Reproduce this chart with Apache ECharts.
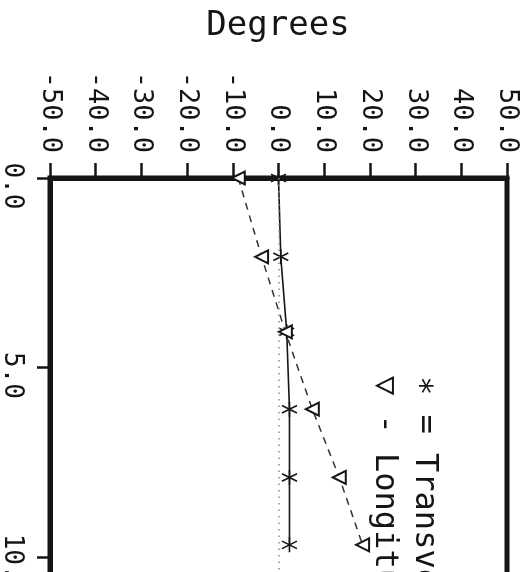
<!DOCTYPE html>
<html>
<head>
<meta charset="utf-8">
<script src="https://cdn.jsdelivr.net/npm/echarts@6/dist/echarts.min.js"></script>
<style>
  html, body { margin: 0; padding: 0; background: #fff; }
  #chart { width: 527px; height: 572px; }
</style>
</head>
<body>
<div id="chart"></div>
<script>
// depth (vertical axis) and angles in degrees (horizontal axis)
const depth = [0, 2.08, 4.06, 6.1, 7.9, 9.68];
const transverse = [0, 0.5, 1.8, 2.4, 2.4, 2.4];
const longitudinal = [-8.8, -3.7, 1.5, 7.4, 13.3, 18.4];
const degreeTicks = [-50, 50, 10]; // min, max, interval

const font = 'DejaVu Sans Mono';
const ink = '#151515';

let chart = echarts.init(document.getElementById('chart'));

// asterisk marker: vertical bar + X
const starPath = 'path://M0,-10L0,10M-8.7,-5L8.7,5M-8.7,5L8.7,-5';

let option = {
  animation: false,
  backgroundColor: '#fff',
  grid: {
    left: 50,
    right: 20,
    top: 178,
    height: 758,
    outerBoundsMode: 'none',
    containLabel: false,
    show: true,
    borderColor: ink,
    borderWidth: 5
  },
  xAxis: {
    type: 'value',
    position: 'top',
    min: degreeTicks[0],
    max: degreeTicks[1],
    interval: degreeTicks[2],
    axisLine: { show: true, onZero: false, lineStyle: { color: ink, width: 5 } },
    axisTick: { show: true, inside: false, length: 15, lineStyle: { color: ink, width: 2.5 } },
    splitLine: { show: false },
    axisLabel: {
      rotate: 90,
      margin: 25,
      align: 'right',
      verticalAlign: 'middle',
      color: ink,
      fontFamily: font,
      fontSize: 27,
      formatter: (v) => v.toFixed(1)
    }
  },
  yAxis: {
    type: 'value',
    inverse: true,
    min: 0,
    max: 20,
    interval: 5,
    axisLine: { show: true, onZero: false, lineStyle: { color: ink, width: 5 } },
    axisTick: { show: true, inside: false, length: 13, lineStyle: { color: ink, width: 2.5 } },
    splitLine: { show: false },
    axisLabel: {
      rotate: -90,
      margin: 25,
      align: 'center',
      verticalAlign: 'top',
      padding: [0, 0, 0, 16],
      color: ink,
      fontFamily: font,
      fontSize: 26,
      formatter: (v) => v.toFixed(1)
    }
  },
  graphic: [
    {
      type: 'text', x: 278, y: 26,
      style: { text: 'Degrees', align: 'center', verticalAlign: 'middle', font: '34px "DejaVu Sans Mono"', fill: ink }
    },
    {
      type: 'text', x: 424, y: 376, rotation: -Math.PI / 2,
      style: { text: '∗ = Transverse', align: 'left', verticalAlign: 'middle', font: '32px "DejaVu Sans Mono"', fill: ink }
    },
    {
      type: 'text', x: 384, y: 376, rotation: -Math.PI / 2,
      style: { text: '▽ - Longitudinal', align: 'left', verticalAlign: 'middle', font: '32px "DejaVu Sans Mono"', fill: ink }
    }
  ],
  series: [
    {
      name: 'Transverse',
      type: 'line',
      clip: false,
      data: depth.map((d, i) => [transverse[i], d]),
      symbol: starPath,
      symbolSize: 15,
      lineStyle: { color: ink, width: 1.6 },
      itemStyle: { color: ink, borderColor: ink, borderWidth: 1.6 },
      markLine: {
        silent: true,
        symbol: 'none',
        label: { show: false },
        lineStyle: { color: '#8a8a8a', type: [1.5, 5], width: 1.5 },
        data: [{ xAxis: 0 }]
      },
      z: 3
    },
    {
      name: 'Longitudinal',
      type: 'line',
      clip: false,
      data: depth.map((d, i) => [longitudinal[i], d]),
      symbol: 'emptyTriangle',
      symbolRotate: 90,
      symbolSize: 13,
      lineStyle: { color: '#333', width: 1.5, type: [7, 6] },
      itemStyle: { color: ink, borderColor: ink, borderWidth: 1.6 },
      z: 4
    }
  ]
};

option && chart.setOption(option);
</script>
</body>
</html>
